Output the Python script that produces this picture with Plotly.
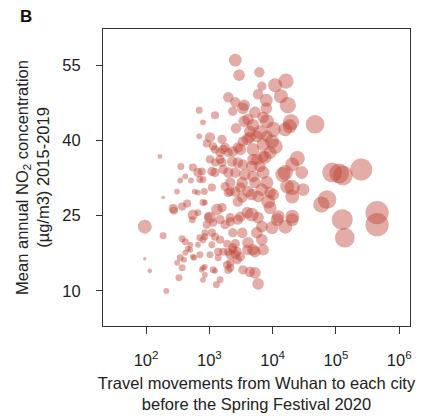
import plotly.graph_objects as go

# log10 of travel movements from Wuhan
log_travel = [
    3.41, 3.47, 3.79, 4.21, 4.04, 3.83, 3.77, 4.13, 4.24, 3.30,
    3.41, 3.55, 3.53, 3.37, 3.90, 3.90, 3.85, 3.72, 4.29, 4.27,
    4.67, 4.01, 3.91, 3.55, 3.42, 3.69, 3.64, 3.80, 3.99, 4.04,
    3.91, 4.39, 3.85, 3.60, 3.49, 3.37, 3.20, 3.22, 3.69, 3.75,
    3.09, 2.90, 2.84, 2.84, 3.01, 2.96, 2.22, 3.09, 3.17, 3.61,
    4.20, 3.06, 3.25, 3.30, 3.45, 3.53, 3.64, 3.75, 3.85, 3.96,
    3.17, 3.01, 3.20, 3.36, 3.45, 3.53, 3.67, 3.80, 3.88, 3.09,
    2.88, 3.30, 3.41, 3.56, 3.69, 3.85, 4.16, 4.31, 3.91, 3.72,
    3.52, 3.33, 2.90, 3.04, 3.25, 3.41, 3.61, 3.83, 3.96, 4.23,
    4.46, 4.48, 4.31, 4.94, 5.05, 5.11, 5.40, 4.86, 4.77, 5.10,
    5.14, 5.65, 5.65, 1.98, 2.27, 1.98, 2.06, 2.32, 2.44, 2.57,
    2.49, 2.57, 2.52, 2.60, 2.70, 2.76, 2.90, 2.90, 2.93, 3.09,
    3.17, 3.11, 3.53, 3.64, 3.72, 3.77, 3.60, 3.85, 3.72, 3.33,
    3.37, 4.31, 4.20, 3.99, 4.07, 2.55, 2.74, 2.82, 2.62, 2.54,
    2.71, 2.85, 3.04, 3.09, 2.92, 2.77, 2.49, 2.27, 2.43, 2.57,
    2.65, 2.93, 2.74, 2.73, 3.01, 2.96, 3.12, 3.20, 2.62, 2.70,
    2.66, 2.62, 2.85, 2.93, 3.04, 3.09, 3.17, 3.04, 2.85, 2.74,
    2.54, 2.93, 3.06, 3.28, 3.22, 4.20, 4.31, 4.01, 3.93, 3.96,
    4.09, 4.31, 3.83, 3.75, 3.83, 3.61, 3.52, 3.37, 3.67, 3.60,
    3.49, 3.33, 3.25, 3.45, 3.33, 3.49, 3.67, 3.22, 3.69, 3.37,
    3.33, 3.33, 3.41, 3.49, 3.30, 3.52, 3.77, 2.98, 3.17, 3.33,
    3.45, 3.77, 3.06, 2.93, 2.90, 3.28, 3.41, 3.69, 3.44, 3.30,
    3.14, 3.01, 2.82, 3.44, 3.14, 2.88, 3.30, 2.82, 2.90, 2.82,
]

# mean annual NO2 concentration 2015-2019 (ug/m3)
no2 = [
    56.0, 53.0, 53.6, 51.8, 51.0, 50.8, 49.2, 48.8, 47.0, 48.6,
    47.6, 47.0, 46.4, 45.8, 48.0, 46.4, 44.6, 45.6, 43.6, 42.8,
    43.2, 42.2, 43.8, 43.8, 42.4, 43.0, 41.8, 41.6, 39.8, 38.8,
    40.8, 36.4, 36.8, 40.2, 38.2, 37.8, 40.2, 38.2, 38.2, 36.2,
    45.0, 43.6, 46.0, 40.8, 40.6, 39.4, 36.8, 38.2, 36.2, 44.2,
    42.2, 38.8, 38.6, 37.6, 38.6, 39.8, 40.6, 40.8, 39.2, 37.6,
    37.6, 36.2, 35.6, 35.8, 35.6, 35.2, 34.8, 34.8, 36.6, 33.6,
    33.8, 33.6, 33.6, 33.2, 32.8, 33.6, 33.2, 35.2, 31.6, 31.6,
    31.6, 31.6, 32.2, 30.6, 30.8, 29.8, 29.8, 30.2, 29.6, 30.8,
    33.6, 30.2, 28.8, 33.6, 33.4, 33.0, 34.2, 28.2, 27.2, 24.2,
    20.6, 25.6, 23.2, 22.8, 21.0, 16.4, 14.0, 10.0, 26.0, 20.4,
    15.6, 14.6, 12.6, 16.2, 18.2, 16.6, 14.6, 12.2, 13.2, 14.0,
    12.2, 11.2, 14.2, 13.8, 13.6, 11.4, 18.2, 18.2, 17.8, 15.6,
    18.2, 24.2, 22.8, 22.6, 24.2, 34.8, 34.6, 33.6, 32.8, 32.0,
    32.0, 32.2, 33.8, 35.6, 29.8, 29.8, 29.8, 28.6, 26.4, 26.8,
    27.4, 27.6, 25.2, 24.2, 24.6, 23.2, 26.2, 26.6, 19.8, 19.2,
    18.4, 17.6, 20.6, 20.8, 21.6, 20.8, 20.2, 19.2, 17.2, 16.8,
    16.6, 14.8, 14.2, 15.2, 17.8, 33.6, 30.6, 29.2, 27.8, 26.6,
    24.8, 24.8, 22.8, 21.6, 20.2, 19.6, 21.6, 21.6, 25.2, 25.6,
    24.8, 24.6, 23.2, 27.8, 29.8, 30.6, 29.2, 34.2, 36.2, 18.6,
    17.2, 14.6, 17.2, 16.8, 29.6, 28.6, 28.8, 24.8, 24.2, 23.8,
    24.2, 24.6, 23.6, 21.6, 20.2, 19.4, 19.4, 18.2, 17.8, 17.8,
    17.8, 17.2, 19.2, 16.2, 16.6, 14.2, 14.2, 29.6, 27.6, 25.6,
]

# bubble magnitude (relative city size)
bubble = [
    11, 10, 9, 13, 12, 8, 9, 12, 14, 9,
    9, 10, 10, 8, 11, 10, 10, 10, 14, 12,
    16, 13, 12, 10, 9, 11, 10, 12, 12, 13,
    10, 13, 10, 10, 10, 9, 8, 8, 11, 10,
    7, 5, 6, 5, 9, 7, 4, 7, 8, 10,
    12, 7, 8, 8, 9, 9, 10, 10, 11, 11,
    8, 7, 8, 9, 9, 9, 10, 10, 11, 8,
    7, 9, 9, 10, 10, 11, 13, 12, 11, 10,
    10, 9, 6, 7, 8, 9, 10, 11, 10, 12,
    11, 11, 12, 17, 17, 17, 19, 16, 14, 18,
    17, 20, 20, 12, 6, 3, 4, 5, 7, 6,
    5, 6, 6, 5, 5, 5, 5, 5, 5, 5,
    6, 6, 8, 9, 10, 10, 9, 10, 10, 7,
    7, 11, 12, 11, 11, 6, 7, 8, 5, 5,
    5, 6, 8, 7, 6, 5, 5, 3, 8, 7,
    7, 5, 9, 6, 10, 7, 10, 8, 6, 5,
    5, 5, 6, 6, 7, 7, 7, 6, 6, 5,
    6, 5, 6, 7, 7, 13, 13, 10, 12, 11,
    11, 12, 10, 10, 10, 10, 9, 8, 12, 10,
    9, 8, 8, 9, 8, 9, 10, 8, 10, 8,
    8, 7, 8, 8, 8, 9, 10, 7, 8, 8,
    9, 10, 7, 6, 6, 7, 8, 10, 8, 7,
    7, 6, 5, 8, 6, 5, 7, 5, 6, 6,
]

x_tick_exp = [2, 3, 4, 5, 6]
y_ticks = [10, 25, 40, 55]

travel = [10 ** v for v in log_travel]
FONT = "Liberation Sans, Arial, sans-serif"

fig = go.Figure(go.Scatter(
    x=travel, y=no2, mode="markers",
    marker=dict(size=bubble, sizemode="diameter", sizeref=0.86,
                color="rgba(192,70,55,0.64)", line=dict(width=0)),
    hoverinfo="skip", showlegend=False,
))

axis_common = dict(showline=True, mirror=True, linecolor="#333333", linewidth=1.2,
                   ticks="outside", tickcolor="#333333", tickwidth=1.2,
                   showgrid=False, zeroline=False,
                   tickfont=dict(family=FONT, size=16.5, color="#222222"))

fig.update_xaxes(type="log", range=[1.32, 6.17],
                 tickvals=[10 ** e for e in x_tick_exp],
                 ticktext=[f"10<sup>{e}</sup>" for e in x_tick_exp],
                 ticklen=7, ticklabelstandoff=12,
                 title=dict(text="Travel movements from Wuhan to each city<br>before the Spring Festival 2020",
                            font=dict(family=FONT, size=16.5, color="#222222"), standoff=9),
                 **axis_common)
fig.update_yaxes(range=[3, 62.2], tickvals=y_ticks, ticktext=[str(v) for v in y_ticks],
                 ticklen=6, ticklabelstandoff=12,
                 title=dict(text="Mean annual NO<sub>2</sub> concentration<br>(µg/m3) 2015-2019",
                            font=dict(family=FONT, size=16.5, color="#222222"), standoff=8),
                 **axis_common)

# panel label
fig.add_annotation(text="<b>B</b>", x=-85/307, y=1 + 12/297, xref="paper", yref="paper",
                   showarrow=False, font=dict(family=FONT, size=17, color="#111111"),
                   xanchor="left", yanchor="middle")

fig.update_layout(width=425, height=416, autosize=False,
                  margin=dict(l=103, r=15, t=29, b=90, autoexpand=False),
                  paper_bgcolor="white", plot_bgcolor="white")

fig.write_html("out.html")
